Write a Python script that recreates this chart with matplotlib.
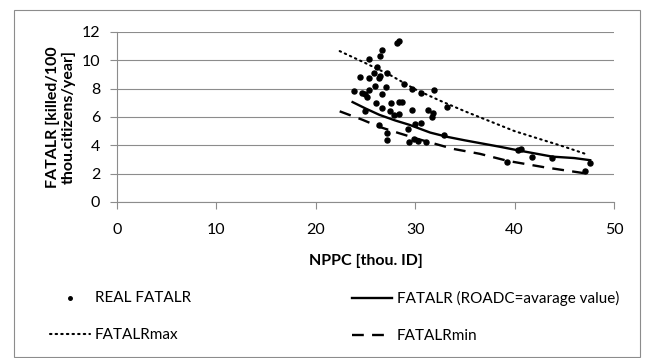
import matplotlib
matplotlib.use("Agg")
import matplotlib.pyplot as plt
from matplotlib.patches import Rectangle

# ========== Data ==========
real_x = [23.8, 24.4, 24.6, 24.9, 25.1, 25.3, 25.4, 25.4, 25.9, 26.0,
          26.4, 26.5, 26.2, 26.5, 26.7, 27.2, 27.1, 26.7, 26.1, 26.7,
          27.5, 27.6, 27.9, 28.4, 28.4, 28.7, 28.2, 28.4, 28.9, 29.7,
          29.7, 30.6, 31.3, 31.8, 31.7, 31.9, 30.0, 29.3, 30.6, 27.2,
          27.2, 29.4, 29.9, 30.3, 31.1, 33.2, 32.9, 24.9, 26.4, 40.3,
          40.6, 41.7, 43.8, 39.2, 47.1, 47.6]
real_y = [7.8, 8.8, 7.7, 7.6, 7.4, 8.75, 10.1, 7.9, 9.1, 8.2,
          8.75, 8.9, 9.5, 10.3, 10.7, 9.1, 8.1, 7.6, 7.0, 6.6,
          6.4, 7.0, 6.15, 6.2, 7.05, 7.05, 11.2, 11.35, 8.3, 8.0,
          6.5, 7.7, 6.5, 6.3, 6.0, 7.9, 5.5, 5.15, 5.6, 4.9,
          4.4, 4.2, 4.45, 4.3, 4.2, 6.7, 4.7, 6.4, 5.4, 3.7,
          3.75, 3.2, 3.1, 2.8, 2.2, 2.75]

avg_x = [23.7, 25.0, 26.4, 28.0, 29.4, 31.5, 33.2, 35.0, 38.5, 40.3, 43.8, 46.0, 47.6]
avg_y = [7.05, 6.6, 6.15, 5.75, 5.45, 4.9, 4.6, 4.35, 3.9, 3.65, 3.2, 3.1, 2.95]

max_x = [22.4, 25.0, 27.5, 30.0, 32.5, 35.0, 37.5, 40.0, 42.5, 45.0, 47.1]
max_y = [10.65, 9.8, 8.95, 7.95, 7.15, 6.4, 5.7, 5.0, 4.45, 3.9, 3.4]

min_x = [22.4, 24.7, 26.4, 28.4, 30.5, 33.8, 36.5, 39.3, 43.0, 47.3]
min_y = [6.4, 5.8, 5.3, 4.85, 4.4, 3.75, 3.4, 2.9, 2.45, 2.0]

x_ticks = [0, 10, 20, 30, 40, 50]
y_ticks = [0, 2, 4, 6, 8, 10, 12]

# ========== Style ==========
plt.rcParams['font.family'] = ['Lato', 'DejaVu Sans']
GRID = '#8c8c8c'

fig = plt.figure(figsize=(6.45, 3.58), dpi=100)
ax = fig.add_axes([0.1814, 0.4358, 0.7706, 0.4749])

ax.scatter(real_x, real_y, s=13, color='black', zorder=3, label='REAL FATALR')
ax.plot(max_x, max_y, color='black', lw=1.5, linestyle=(0, (0.7, 2.0)),
        dash_capstyle='round', label='FATALRmax')
ax.plot(avg_x, avg_y, color='black', lw=1.7, label='FATALR (ROADC=avarage value)')
ax.plot(min_x, min_y, color='black', lw=1.7, linestyle=(0, (5, 3.5)), label='FATALRmin')

ax.set_xlim(0, 50)
ax.set_ylim(0, 12)
ax.set_xticks(x_ticks)
ax.set_yticks(y_ticks)
ax.yaxis.grid(True, color=GRID, lw=0.8)
ax.set_axisbelow(True)
for side in ['top', 'right']:
    ax.spines[side].set_visible(False)
for side in ['left', 'bottom']:
    ax.spines[side].set_color(GRID)
    ax.spines[side].set_linewidth(0.8)
ax.tick_params(axis='both', colors=GRID, labelcolor='black', labelsize=11.5,
               length=5, width=0.8, direction='out')
ax.tick_params(axis='x', pad=10)
ax.tick_params(axis='y', pad=7)

ax.set_xlabel('NPPC [thou. ID]', fontsize=11.5, fontweight='bold', labelpad=12)
ax.set_ylabel('FATALR [killed/100\nthou.citizens/year]', fontsize=11.5,
              fontweight='bold', linespacing=1.15)
ax.yaxis.set_label_coords(-0.082, 0.5)

# legend below the plot: one legend per column
h = dict(zip(*ax.get_legend_handles_labels()[::-1]))
leg_kw = dict(loc='upper left', frameon=False, fontsize=11, handlelength=2.6,
              handletextpad=0.35, labelspacing=1.5, borderpad=0,
              borderaxespad=0, markerscale=0.7)
col1 = ['REAL FATALR', 'FATALRmax']
col2 = ['FATALR (ROADC=avarage value)', 'FATALRmin']
fig.legend([h[l] for l in col1], col1, bbox_to_anchor=(0.0775, 0.186), **leg_kw)
fig.legend([h[l] for l in col2], col2, bbox_to_anchor=(0.5457, 0.186), **leg_kw)

# outer chart border
fig.add_artist(Rectangle((14 / 645, 0.002), 626 / 645, 1 - 10 / 358 - 0.002,
                         transform=fig.transFigure, fill=False,
                         edgecolor=GRID, lw=0.8))

fig.savefig('out.png', dpi=100)
